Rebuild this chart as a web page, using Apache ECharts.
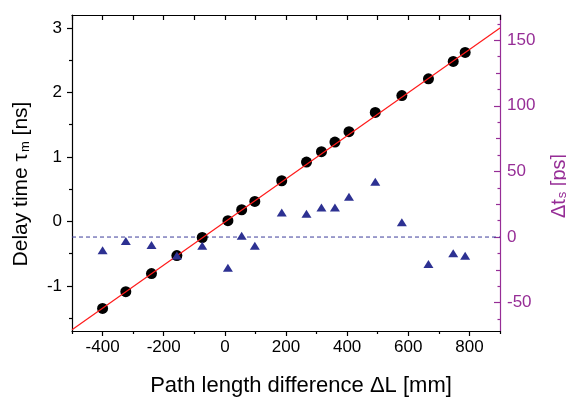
<!DOCTYPE html>
<html>
<head>
<meta charset="utf-8">
<script src="https://cdn.jsdelivr.net/npm/echarts@6/dist/echarts.min.js"></script>
<style>
html,body{margin:0;padding:0;background:#fff;}
#chart{width:566px;height:403px;}
</style>
</head>
<body>
<div id="chart"></div>
<script>
// ---- data ----
const pathDiff = [-400,-324,-240,-157,-74,10,55,98,186,267,316,360,406,492,579,666,747,786];
const delayNs  = [-1.35,-1.09,-0.81,-0.53,-0.25,0.01,0.18,0.31,0.63,0.92,1.08,1.23,1.39,1.69,1.95,2.21,2.48,2.62];
const deltaPs  = [-10,-3,-6,-14,-6.6,-23.4,1,-6.7,18.7,17.8,22.6,22.6,30.7,42.1,11.2,-20.6,-12.4,-14.2];
const fitX  = [-500, 900];
const fitNs = [-1.68, 3.00];
const zeroPsX = [-500, 900];
const zeroPsY = [0, 0];
const xTicks = [-400,-200,0,200,400,600,800];
const xMinorTicks = [-500,-300,-100,100,300,500,700,900];
const leftTicks = [-1,0,1,2,3];
const leftMinorTicks = [-1.5,-0.5,0.5,1.5,2.5];
const rightTicks = [-50,0,50,100,150];
const rightMidTicks = [-25,25,75,125];
const rightMinorTicks = [-62.5,-37.5,-12.5,12.5,37.5,62.5,87.5,112.5,137.5,162.5];

const X_MIN = -500, X_MAX = 900;
const L_MIN = -1.7, L_MAX = 3.2;
const R_MIN = -71.6, R_MAX = 169.2;

const FONT = 'Liberation Sans, Arial, sans-serif';
const PURPLE = '#962d96';
const NAVY = '#2d3192';

const gridBox = {left: 72, top: 15, right: 66, bottom: 72, containLabel: false, outerBoundsMode: 'none'};

const chart = echarts.init(document.getElementById('chart'), null, {renderer: 'canvas'});

function hiddenX(gridIndex) {
  return {type: 'value', gridIndex, min: X_MIN, max: X_MAX, show: false};
}

const option = {
  backgroundColor: '#fff',
  animation: false,
  grid: [
    Object.assign({}, gridBox),
    Object.assign({}, gridBox),
    Object.assign({}, gridBox)
  ],
  xAxis: [
    { // main bottom
      type: 'value', gridIndex: 0, position: 'bottom', min: X_MIN, max: X_MAX,
      axisLine: {show: true, onZero: false, lineStyle: {color: '#000', width: 1.2}},
      axisTick: {show: true, inside: false, length: 5, customValues: xTicks, lineStyle: {color: '#000', width: 1.2}},
      axisLabel: {show: true, customValues: xTicks, margin: 8, fontSize: 17, color: '#000', fontFamily: FONT},
      splitLine: {show: false},
      name: 'Path length difference ΔL [mm]',
      nameLocation: 'middle', nameGap: 44,
      nameTextStyle: {fontSize: 22, color: '#000', fontFamily: FONT, padding: [0, 0, 0, 30]}
    },
    { // top frame
      type: 'value', gridIndex: 0, position: 'top', min: X_MIN, max: X_MAX, interval: 100,
      axisLine: {show: true, onZero: false, lineStyle: {color: '#000', width: 1.2}},
      axisTick: {show: true, inside: true, length: 5, lineStyle: {color: '#000', width: 1.2}},
      axisLabel: {show: false},
      splitLine: {show: false}
    },
    { // bottom minor ticks
      type: 'value', gridIndex: 1, position: 'bottom', min: X_MIN, max: X_MAX,
      axisLine: {show: false, onZero: false},
      axisTick: {show: true, inside: false, length: 3, customValues: xMinorTicks, lineStyle: {color: '#000', width: 1.2}},
      axisLabel: {show: false},
      splitLine: {show: false}
    },
    hiddenX(2)
  ],
  yAxis: [
    { // main left
      type: 'value', gridIndex: 0, position: 'left', min: L_MIN, max: L_MAX,
      axisLine: {show: true, onZero: false, lineStyle: {color: '#000', width: 1.2}},
      axisTick: {show: true, inside: false, length: 5, customValues: leftTicks, lineStyle: {color: '#000', width: 1.2}},
      axisLabel: {show: true, customValues: leftTicks, margin: 10, fontSize: 17, color: '#000', fontFamily: FONT},
      splitLine: {show: false},
      name: '{a|Delay time τ}{s|m}{a| [ns]}',
      nameLocation: 'middle', nameGap: 40, nameRotate: 90,
      nameTextStyle: {
        fontFamily: FONT, color: '#000', padding: [0, 22, 0, 0],
        rich: {
          a: {fontSize: 21, color: '#000', fontFamily: FONT, lineHeight: 24, verticalAlign: 'bottom'},
          s: {fontSize: 13, color: '#000', fontFamily: FONT, lineHeight: 24, verticalAlign: 'bottom', padding: [10, 0, 0, 1]}
        }
      }
    },
    { // main right
      type: 'value', gridIndex: 0, position: 'right', min: R_MIN, max: R_MAX,
      axisLine: {show: true, onZero: false, lineStyle: {color: PURPLE, width: 1.2}},
      axisTick: {show: true, inside: true, length: 6, customValues: rightTicks, lineStyle: {color: PURPLE, width: 1.2}},
      axisLabel: {show: true, customValues: rightTicks, margin: 7, fontSize: 17, color: PURPLE, fontFamily: FONT},
      splitLine: {show: false},
      name: '{a|Δt}{s|s}{a| [ps]}',
      nameLocation: 'middle', nameGap: 38, nameRotate: 90,
      nameTextStyle: {
        fontFamily: FONT, color: PURPLE, padding: [0, 26, 0, 0],
        rich: {
          a: {fontSize: 20, color: PURPLE, fontFamily: FONT, lineHeight: 23, verticalAlign: 'bottom'},
          s: {fontSize: 13, color: PURPLE, fontFamily: FONT, lineHeight: 23, verticalAlign: 'bottom', padding: [10, 0, 0, 1]}
        }
      }
    },
    { // left minor ticks
      type: 'value', gridIndex: 1, position: 'left', min: L_MIN, max: L_MAX,
      axisLine: {show: false, onZero: false},
      axisTick: {show: true, inside: false, length: 3, customValues: leftMinorTicks, lineStyle: {color: '#000', width: 1.2}},
      axisLabel: {show: false},
      splitLine: {show: false}
    },
    { // right minor ticks (12.5)
      type: 'value', gridIndex: 1, position: 'right', min: R_MIN, max: R_MAX,
      axisLine: {show: false, onZero: false},
      axisTick: {show: true, inside: true, length: 2.5, customValues: rightMinorTicks, lineStyle: {color: PURPLE, width: 1.2}},
      axisLabel: {show: false},
      splitLine: {show: false}
    },
    { // right mid ticks (25)
      type: 'value', gridIndex: 2, position: 'right', min: R_MIN, max: R_MAX,
      axisLine: {show: false, onZero: false},
      axisTick: {show: true, inside: true, length: 4, customValues: rightMidTicks, lineStyle: {color: PURPLE, width: 1.2}},
      axisLabel: {show: false},
      splitLine: {show: false}
    }
  ],
  series: [
    {
      name: 'zero ps', type: 'line', xAxisIndex: 0, yAxisIndex: 1,
      data: zeroPsX.map((x, i) => [x, zeroPsY[i]]),
      symbol: 'none', silent: true, z: 2,
      lineStyle: {color: '#3c3c9a', width: 1, type: [4, 3]}
    },
    {
      name: 'delay', type: 'scatter', xAxisIndex: 0, yAxisIndex: 0,
      data: pathDiff.map((x, i) => [x, delayNs[i]]),
      symbol: 'circle', symbolSize: 11, z: 3,
      itemStyle: {color: '#000', opacity: 1}
    },
    {
      name: 'fit', type: 'line', xAxisIndex: 0, yAxisIndex: 0,
      data: fitX.map((x, i) => [x, fitNs[i]]),
      symbol: 'none', z: 4,
      lineStyle: {color: '#ff1a1a', width: 1.2}
    },
    {
      name: 'deviation', type: 'scatter', xAxisIndex: 0, yAxisIndex: 1,
      data: pathDiff.map((x, i) => [x, deltaPs[i]]),
      symbol: 'triangle', symbolSize: [10, 8], z: 5,
      itemStyle: {color: NAVY, opacity: 1}
    }
  ]
};
chart.setOption(option);
</script>
</body>
</html>
